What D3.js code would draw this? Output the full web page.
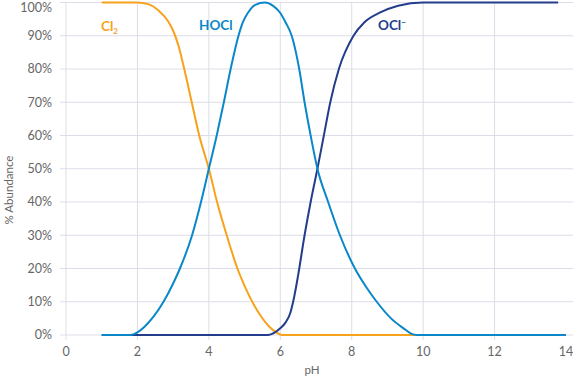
<!DOCTYPE html>
<html><head><meta charset="utf-8">
<script src="https://cdn.jsdelivr.net/npm/d3@7"></script>
<style>
html,body{margin:0;padding:0;background:#fff;}
svg{display:block;font-family:Lato,"Open Sans",sans-serif;}
</style></head>
<body><svg id="c" width="573" height="379"></svg>
<script>
// Data
const xTicks = [0, 2, 4, 6, 8, 10, 12, 14];
const yTicks = [0, 10, 20, 30, 40, 50, 60, 70, 80, 90, 100];

const cl2PH  = [1.0, 2.0, 2.3, 2.6, 2.85, 3.0, 3.15, 3.3, 3.5, 3.73, 4.0, 4.23, 4.5, 4.8, 5.0, 5.2, 5.45, 5.7, 5.9, 6.05, 14];
const cl2Pct = [100, 100, 99.5, 97.5, 94.5, 91.5, 87, 80.5, 71, 60, 50, 40, 30, 20, 14.8, 10.3, 5.8, 2.4, 0.7, 0, 0];

const hoclPH  = [1.0, 1.8, 2.0, 2.2, 2.45, 2.73, 3.0, 3.19, 3.53, 3.78, 4.0, 4.22, 4.42, 4.61, 4.83, 4.95, 5.1, 5.3, 5.57, 5.8, 5.99, 6.15, 6.32, 6.53, 6.68, 6.85, 7.04, 7.34, 7.67, 8.09, 8.4, 8.7, 9.1, 9.45, 9.65, 9.82, 14];
const hoclPct = [0, 0, 0.8, 2.5, 5.5, 10, 15.5, 20, 30, 40, 50, 60, 70, 80, 90, 94, 97, 99.3, 100, 99, 97, 94, 90, 80, 70, 60, 50, 40, 30, 20, 14.5, 10, 5, 2, 0.5, 0, 0];

const oclPH  = [1.0, 5.65, 5.85, 6.0, 6.15, 6.27, 6.38, 6.5, 6.68, 6.85, 7.04, 7.22, 7.4, 7.64, 8.05, 8.35, 8.8, 9.3, 10.0, 13.78];
const oclPct = [0, 0, 0.8, 2, 3.8, 6.3, 11, 18, 30, 40, 50, 60, 70, 80, 90, 94, 97, 99, 100, 100];

const svg = d3.select("#c");
const x = d3.scaleLinear().domain([0, 14]).range([66, 566]);
const y = d3.scaleLinear().domain([0, 100]).range([335, 2.5]);
const gridC = "#dddde8", textC = "#666";

// horizontal grid
svg.append("g").selectAll("line").data(yTicks).join("line")
  .attr("x1", 60).attr("x2", 573).attr("y1", d => y(d)).attr("y2", d => y(d))
  .attr("stroke", gridC).attr("stroke-width", 1);
// vertical grid
svg.append("g").selectAll("line").data(xTicks.filter(d => d < 14)).join("line")
  .attr("x1", d => x(d)).attr("x2", d => x(d)).attr("y1", y(100)).attr("y2", 340)
  .attr("stroke", gridC).attr("stroke-width", 1);

// y tick labels
svg.append("g").selectAll("text").data(yTicks).join("text")
  .attr("x", 52).attr("y", d => Math.max(y(d), 7.5)).attr("dy", "0.35em")
  .attr("text-anchor", "end").attr("fill", textC).attr("font-size", 12.5)
  .text(d => d + "%");
// x tick labels
svg.append("g").selectAll("text").data(xTicks).join("text")
  .attr("x", d => x(d)).attr("y", 352).attr("dy", "0.35em")
  .attr("text-anchor", "middle").attr("fill", textC).attr("font-size", 12.5)
  .text(d => d);

// axis titles
svg.append("text").attr("x", 312).attr("y", 370).attr("dy", "0.35em")
  .attr("text-anchor", "middle").attr("fill", textC).attr("font-size", 11.5).text("pH");
svg.append("text").attr("transform", "translate(9,190) rotate(-90)").attr("dy", "0.35em")
  .attr("text-anchor", "middle").attr("fill", textC).attr("font-size", 11.5).text("% Abundance");

const line = d3.line().x(d => x(d[0])).y(d => y(d[1])).curve(d3.curveMonotoneX);
const series = [
  {ph: cl2PH, v: cl2Pct, c: "#f7a21b"},
  {ph: oclPH, v: oclPct, c: "#233d8c"},
  {ph: hoclPH, v: hoclPct, c: "#0a87c9"}
];
series.forEach(s => {
  svg.append("path").datum(s.ph.map((p, i) => [p, s.v[i]]))
    .attr("d", line).attr("fill", "none").attr("stroke", s.c).attr("stroke-width", 2);
});

// labels
const cl = svg.append("text").attr("x", 101).attr("y", 31).attr("fill", "#f7a21b")
  .attr("font-size", 13.5).attr("font-weight", "bold");
cl.append("tspan").text("Cl");
cl.append("tspan").attr("font-size", 8).attr("dy", 3).text("2");
svg.append("text").attr("x", 199).attr("y", 30).attr("fill", "#0a87c9")
  .attr("font-size", 13.5).attr("font-weight", "bold").text("HOCl");
const oc = svg.append("text").attr("x", 378).attr("y", 30).attr("fill", "#233d8c")
  .attr("font-size", 13.5).attr("font-weight", "bold");
oc.append("tspan").text("OCl");
oc.append("tspan").attr("font-size", 8).attr("dy", -5).text("−");
</script>
</body></html>
